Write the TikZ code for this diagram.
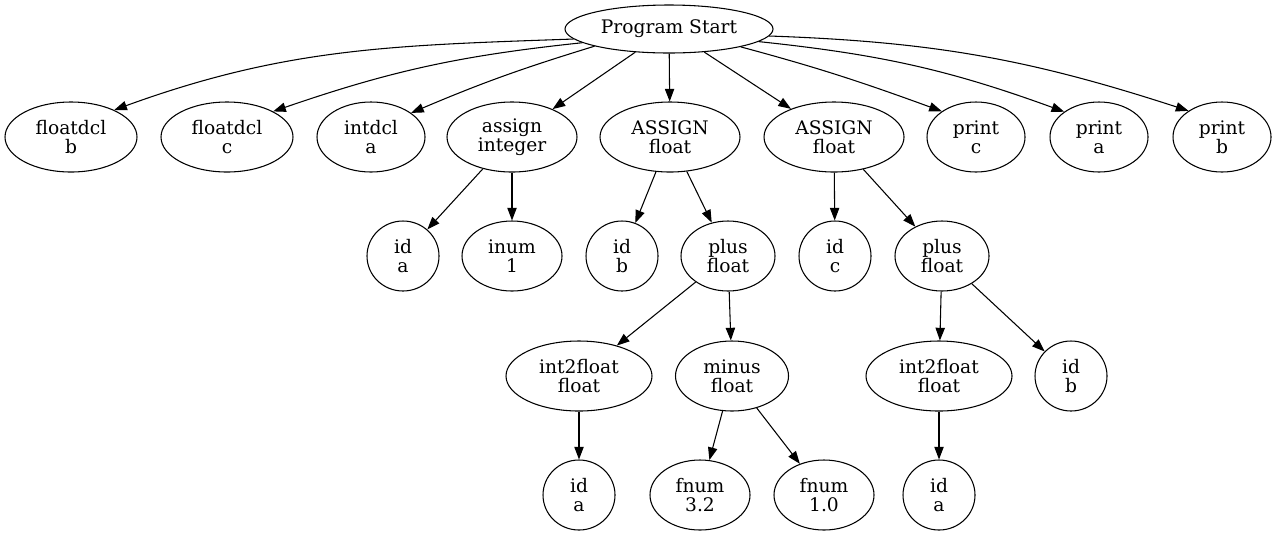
\documentclass[tikz,border=0pt]{standalone}
\usepackage{fontspec}
\setmainfont{DejaVu Serif}
\usepackage{tikz}
\usetikzlibrary{arrows.meta,shapes.geometric}
\definecolor{gvedge}{RGB}{0,0,0}
\tikzset{
  ast/.style={
    draw=gvedge, ellipse, line width=0.8pt, inner sep=0pt,
    align=center, font=\fontsize{14}{14.3}\selectfont,
    minimum height=52.5pt
  },
  top/.style={ast, minimum width=156pt, minimum height=36pt},
  dcl/.style={ast, minimum width=99pt},
  idn/.style={ast, minimum width=54pt},
  num/.style={ast, minimum width=75pt},
  prn/.style={ast, minimum width=73.5pt},
  opn/.style={ast, minimum width=70.5pt},
  asg/.style={ast, minimum width=105pt},
  cnv/.style={ast, minimum width=109.5pt},
  arr/.style={-{Triangle[length=9.5pt,width=7pt]}, draw=gvedge, line width=0.8pt}
}
\begin{document}
\begin{tikzpicture}[x=0.75pt, y=-0.75pt]
  \useasboundingbox (0,0) rectangle (1276,537);
  \node[top] (root) at (669,29) {Program Start};
  \node[dcl] (fdb) at (71,137) {floatdcl\\b};
  \node[dcl] (fdc) at (227,137) {floatdcl\\c};
  \node[ast, minimum width=81pt] (itd) at (371,137) {intdcl\\a};
  \node[ast, minimum width=97.5pt] (asgi) at (512,137) {assign\\integer};
  \node[asg] (asgf) at (670,137) {ASSIGN\\float};
  \node[asg] (asgg) at (834,137) {ASSIGN\\float};
  \node[prn] (prc) at (976,137) {print\\c};
  \node[prn] (pra) at (1099,137) {print\\a};
  \node[prn] (prb) at (1222,137) {print\\b};
  \node[idn] (ida) at (403,256) {id\\a};
  \node[num] (inum) at (512,256) {inum\\1};
  \node[idn] (idb) at (622,256) {id\\b};
  \node[opn] (plf) at (728,256) {plus\\float};
  \node[idn] (idc) at (835,256) {id\\c};
  \node[opn] (plg) at (942,256) {plus\\float};
  \node[cnv] (itf) at (579,376) {int2float\\float};
  \node[ast, minimum width=84.75pt] (mnf) at (732,376) {minus\\float};
  \node[cnv] (itg) at (939,376) {int2float\\float};
  \node[idn] (idbb) at (1071,376) {id\\b};
  \node[idn] (idaa) at (579,495) {id\\a};
  \node[num] (fna) at (700,495) {fnum\\3.2};
  \node[num] (fnb) at (824,495) {fnum\\1.0};
  \node[idn] (idab) at (939,495) {id\\a};
  \draw[arr] (root.186) to[out=182, in=20] (fdb.32);
  \draw[arr] (root.189) to[out=186, in=19] (fdc.29);
  \draw[arr] (root.193) to[out=197, in=23] (itd.31);
  \draw[arr] (root) -- (asgi);
  \draw[arr] (root) -- (asgf);
  \draw[arr] (root) -- (asgg);
  \draw[arr] (root.346) to[out=345, in=160] (prc.143);
  \draw[arr] (root.352) to[out=354, in=160] (pra.144);
  \draw[arr] (root.356) to[out=358, in=162] (prb.142);
  \draw[arr] (asgi) -- (ida);
  \draw[arr] (asgi) -- (inum);
  \draw[arr] (asgf) -- (idb);
  \draw[arr] (asgf) -- (plf);
  \draw[arr] (asgg) -- (idc);
  \draw[arr] (asgg) -- (plg);
  \draw[arr] (plf) -- (itf);
  \draw[arr] (plf) -- (mnf);
  \draw[arr] (plg) -- (itg);
  \draw[arr] (plg) -- (idbb);
  \draw[arr] (itf) -- (idaa);
  \draw[arr] (mnf) -- (fna);
  \draw[arr] (mnf) -- (fnb);
  \draw[arr] (itg) -- (idab);
\end{tikzpicture}
\end{document}
